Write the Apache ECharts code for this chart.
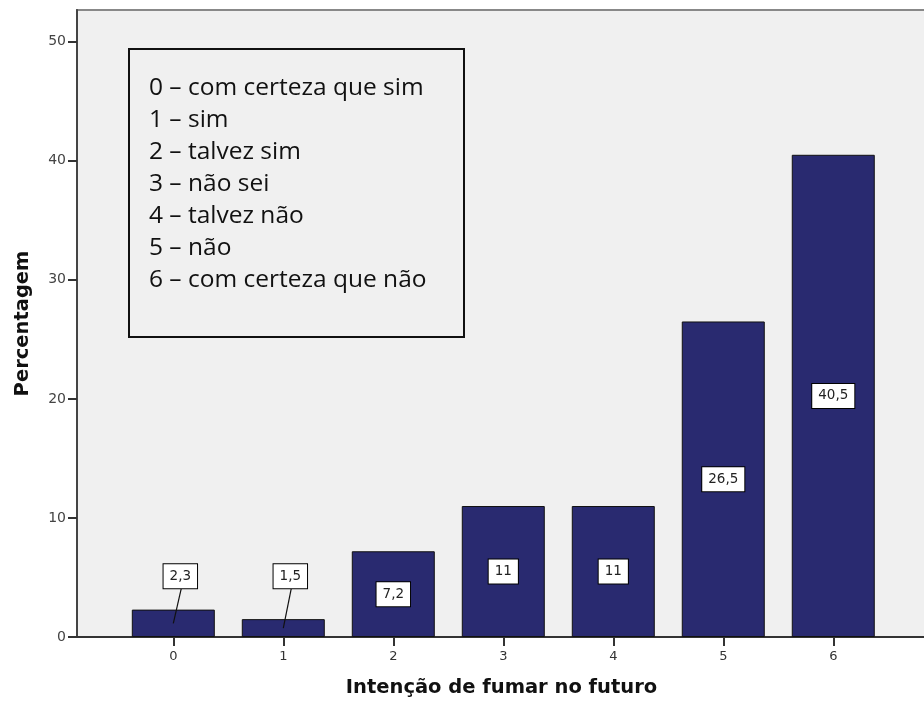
<!DOCTYPE html>
<html>
<head>
<meta charset="utf-8">
<script src="https://cdn.jsdelivr.net/npm/echarts@6/dist/echarts.min.js"></script>
<style>
  html, body { margin: 0; padding: 0; background: #ffffff; }
  #chart { width: 924px; height: 702px; }
</style>
</head>
<body>
<div id="chart"></div>
<script>
// ---- data ----
const categories = [0, 1, 2, 3, 4, 5, 6];
const percentages = [2.3, 1.5, 7.2, 11, 11, 26.5, 40.5];
const yTickValues = [0, 10, 20, 30, 40, 50];
const xAxisTitle = 'Intenção de fumar no futuro';
const yAxisTitle = 'Percentagem';
const legendLines = [
  '0 – com certeza que sim',
  '1 – sim',
  '2 – talvez sim',
  '3 – não sei',
  '4 – talvez não',
  '5 – não',
  '6 – com certeza que não'
];

function fmt(v) { return String(v).replace('.', ','); }

const barData = categories.map((c, i) => [c, percentages[i]]);

const labelStyle = {
  fill: '#222',
  font: '13.5px "DejaVu Sans"',
  align: 'center',
  verticalAlign: 'middle',
  backgroundColor: '#ffffff',
  borderColor: '#000000',
  borderWidth: 1,
  padding: [4, 6],
  lineHeight: 16
};

function renderLabel(params, api) {
  const xv = api.value(0);
  const yv = api.value(1);
  const mid = api.coord([xv, yv / 2]);
  const text = fmt(yv);
  if (yv >= 5) {
    return { type: 'text', x: mid[0], y: mid[1], z2: 10,
      style: Object.assign({ text: text }, labelStyle) };
  }
  const box = api.coord([xv, 5.1]);
  box[0] += 7;
  return {
    type: 'group',
    children: [
      { type: 'line', z2: 5,
        shape: { x1: mid[0], y1: mid[1], x2: box[0] + 1, y2: box[1] + 12 },
        style: { stroke: '#111', lineWidth: 1.2 } },
      { type: 'text', x: box[0], y: box[1], z2: 10,
        style: Object.assign({ text: text }, labelStyle) }
    ]
  };
}

const chart = echarts.init(document.getElementById('chart'), null, { renderer: 'canvas' });

chart.setOption({
  animation: false,
  backgroundColor: '#ffffff',
  grid: {
    left: 77, right: -2, top: 10, bottom: 65,
    outerBoundsMode: 'none',
    containLabel: false,
    show: true,
    backgroundColor: '#f0f0f0',
    borderColor: '#888888',
    borderWidth: 2
  },
  xAxis: {
    type: 'value',
    min: -0.8755,
    max: 6.843,
    name: xAxisTitle,
    nameLocation: 'middle',
    nameGap: 51,
    nameMoveOverlap: false,
    nameTextStyle: { fontFamily: 'DejaVu Sans', fontWeight: 'bold', fontSize: 19.5, color: '#111',
                     verticalAlign: 'middle' },
    axisLine: { show: true, onZero: false, lineStyle: { color: '#333', width: 2 } },
    axisTick: { show: true, length: 9, customValues: categories, lineStyle: { color: '#333', width: 2 } },
    axisLabel: { customValues: categories, margin: 13, fontFamily: 'DejaVu Sans', fontSize: 13, color: '#333' },
    splitLine: { show: false }
  },
  yAxis: {
    type: 'value',
    min: 0,
    max: 52.66,
    name: yAxisTitle,
    nameLocation: 'middle',
    nameGap: 54,
    nameMoveOverlap: false,
    nameTextStyle: { fontFamily: 'DejaVu Sans', fontWeight: 'bold', fontSize: 19.5, color: '#111',
                     verticalAlign: 'middle' },
    axisLine: { show: true, onZero: false, lineStyle: { color: '#444', width: 2 } },
    axisTick: { show: true, length: 9, customValues: yTickValues, lineStyle: { color: '#333', width: 2 } },
    axisLabel: { customValues: yTickValues, margin: 11, fontFamily: 'DejaVu Sans', fontSize: 14, color: '#444' },
    splitLine: { show: false }
  },
  graphic: [
    {
      type: 'group',
      left: 128, top: 48,
      children: [
        { type: 'rect', shape: { x: 0, y: 0, width: 335, height: 288 },
          style: { fill: 'transparent', stroke: '#111', lineWidth: 2 } },
        { type: 'text', x: 20, y: 23,
          style: { text: legendLines.join('\n'), font: '24.5px "Open Sans"', lineHeight: 32, fill: '#111',
                   verticalAlign: 'top', align: 'left' } }
      ]
    }
  ],
  series: [
    {
      type: 'bar',
      data: barData,
      barWidth: 83,
      itemStyle: { color: '#292a70', borderColor: '#111', borderWidth: 1 }
    },
    {
      type: 'custom',
      data: barData,
      encode: { x: 0, y: 1 },
      renderItem: renderLabel,
      z: 10
    }
  ]
});
</script>
</body>
</html>
